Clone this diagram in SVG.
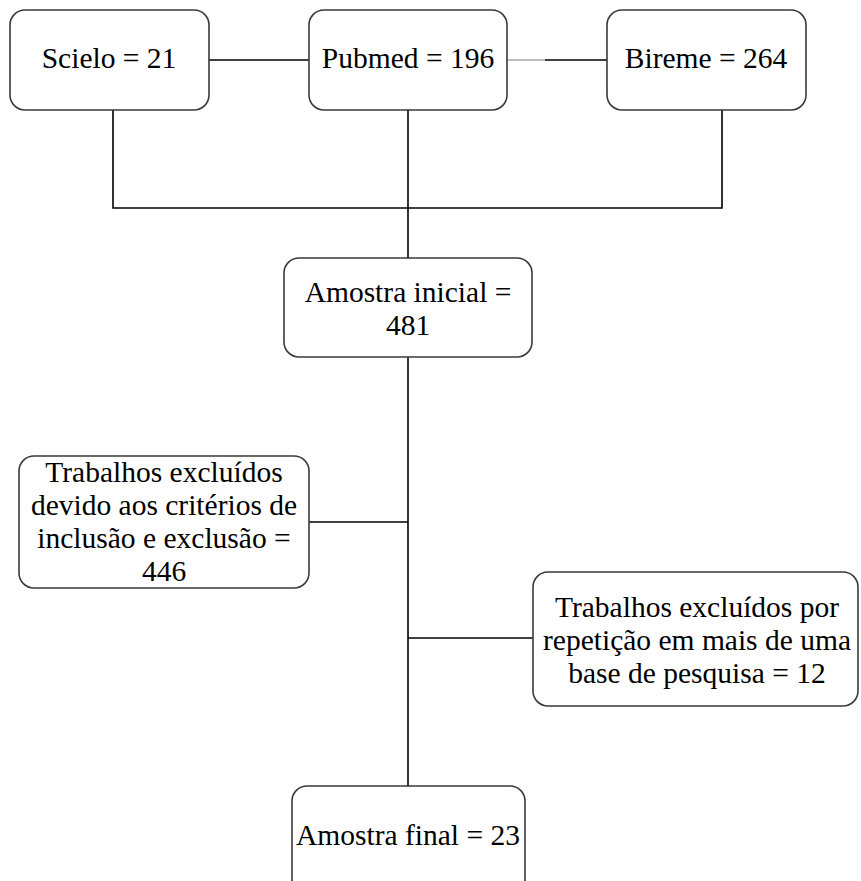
<svg xmlns="http://www.w3.org/2000/svg" width="861" height="881" viewBox="0 0 861 881">
<style>
.box{fill:#fff;stroke:#3a3a3a;stroke-width:1.6}
.ln{stroke:#000;stroke-width:1.6;fill:none}
.t{font-family:'Liberation Serif','DejaVu Serif',serif;font-size:29.5px;fill:#000;text-anchor:middle}
</style>
<rect width="861" height="881" fill="#fff"/>
<g id="connectors">
<line class="ln" x1="209" y1="60" x2="309" y2="60"/>
<line x1="507" y1="60" x2="545" y2="60" stroke="#aaa" stroke-width="1.6"/>
<line class="ln" x1="545" y1="60" x2="607" y2="60"/>
<polyline class="ln" points="113,110 113,208 722,208 722,110"/>
<line class="ln" x1="408" y1="110" x2="408" y2="258"/>
<line class="ln" x1="408" y1="357" x2="408" y2="786"/>
<line class="ln" x1="309" y1="522" x2="408" y2="522"/>
<line class="ln" x1="408" y1="638" x2="533" y2="638"/>
</g>
<g class="t" font-family="Liberation Serif, serif">
<g id="scielo"><rect class="box" x="10" y="10" width="199" height="100" rx="15"/><text x="109" y="68">Scielo = 21</text></g>
<g id="pubmed"><rect class="box" x="309" y="10" width="198" height="100" rx="15"/><text x="408" y="68">Pubmed = 196</text></g>
<g id="bireme"><rect class="box" x="607" y="10" width="199" height="100" rx="15"/><text x="706" y="68">Bireme = 264</text></g>
<g id="amostra-inicial"><rect class="box" x="284" y="258" width="248" height="99" rx="15"/><text x="408" y="302">Amostra inicial =</text><text x="408" y="335">481</text></g>
<g id="excluidos-criterios"><rect class="box" x="19" y="456" width="290" height="132" rx="15"/><text x="164" y="482">Trabalhos excluídos</text><text x="164" y="515">devido aos critérios de</text><text x="164" y="548">inclusão e exclusão =</text><text x="164" y="581">446</text></g>
<g id="excluidos-repeticao"><rect class="box" x="533" y="572" width="325" height="134" rx="15"/><text x="697" y="617">Trabalhos excluídos por</text><text x="697" y="650">repetição em mais de uma</text><text x="697" y="683">base de pesquisa = 12</text></g>
<g id="amostra-final"><rect class="box" x="292" y="786" width="233" height="110" rx="15"/><text x="408" y="845">Amostra final = 23</text></g>
</g>
</svg>
